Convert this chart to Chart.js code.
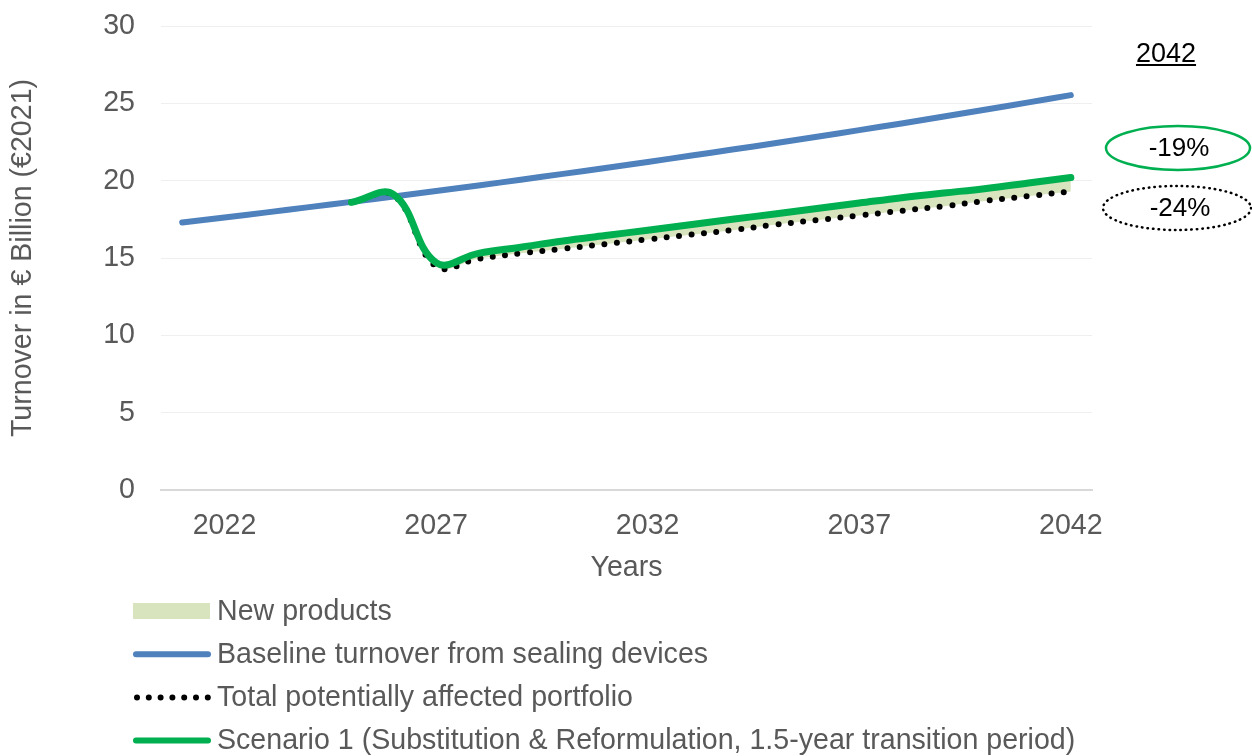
<!DOCTYPE html>
<html>
<head>
<meta charset="utf-8">
<script src="https://cdn.jsdelivr.net/npm/chart.js@4/dist/chart.umd.min.js"></script>
<style>
  html, body { margin: 0; padding: 0; background: #ffffff; }
  canvas { display: block; }
</style>
</head>
<body>
<canvas id="turnover" width="1252" height="756"></canvas>
<script>
// years on the category axis
var years = ["2021", "2022", "2023", "2024", "2025", "2026", "2027", "2028", "2029", "2030", "2031",
  "2032", "2033", "2034", "2035", "2036", "2037", "2038", "2039", "2040", "2041", "2042"];

// € billion, baseline turnover from sealing devices
var baseline = [17.3, 17.62, 17.95, 18.29, 18.63, 18.98, 19.33, 19.69, 20.06, 20.44, 20.82,
  21.21, 21.61, 22.01, 22.42, 22.84, 23.27, 23.7, 24.15, 24.6, 25.06, 25.53];

// total potentially affected portfolio
var affected = [null, null, null, null, 18.6, 19.05, 14.45, 14.95, 15.3, 15.6, 15.9,
  16.2, 16.5, 16.8, 17.15, 17.45, 17.75, 18.05, 18.35, 18.7, 19.0, 19.3];

// scenario 1 (substitution & reformulation)
var scenario1 = [null, null, null, null, 18.6, 19.1, 14.7, 15.3, 15.7, 16.1, 16.45,
  16.8, 17.15, 17.5, 17.85, 18.2, 18.55, 18.9, 19.2, 19.5, 19.85, 20.2];

var yTicks = [0, 5, 10, 15, 20, 25, 30];
var xTickYears = ["2022", "2027", "2032", "2037", "2042"];

var grey = "#595959";
var font = "'Liberation Sans', Arial, sans-serif";
var fontSize = 28.6;

// legend stacked under the x axis, one entry per line
var stackedLegend = {
  id: "stackedLegend",
  afterDraw: function (chart) {
    var ctx = chart.ctx;
    var sets = chart.data.datasets;
    ctx.save();
    ctx.font = fontSize + "px " + font;
    ctx.textBaseline = "middle";
    ctx.textAlign = "left";
    for (var i = 0; i < sets.length; i++) {
      var ds = sets[i];
      var y = 611 + i * 43.2;
      if (ds.legendKind === "box") {
        ctx.fillStyle = ds.backgroundColor;
        ctx.fillRect(133, y - 8, 77, 16);
      } else {
        ctx.beginPath();
        ctx.strokeStyle = ds.borderColor;
        ctx.lineCap = "round";
        if (ds.legendKind === "dots") {
          ctx.lineWidth = 6;
          ctx.setLineDash([0, 11.8]);
          ctx.moveTo(137, y);
          ctx.lineTo(208, y);
        } else {
          ctx.lineWidth = 6;
          ctx.setLineDash([]);
          ctx.moveTo(136, y);
          ctx.lineTo(208, y);
        }
        ctx.stroke();
        ctx.setLineDash([]);
      }
      ctx.fillStyle = grey;
      ctx.fillText(ds.label, 217, y + 1);
    }
    ctx.restore();
  }
};

// 2042 change labels on the right
var changeNotes = {
  id: "changeNotes",
  afterDraw: function (chart) {
    var ctx = chart.ctx;
    ctx.save();
    ctx.fillStyle = "#000000";
    ctx.font = "27px " + font;
    ctx.textAlign = "center";
    ctx.textBaseline = "alphabetic";
    ctx.fillText("2042", 1166, 62);
    var w = ctx.measureText("2042").width;
    ctx.fillRect(1166 - w / 2, 64, w, 2);

    ctx.textBaseline = "middle";
    ctx.font = "26px " + font;

    ctx.beginPath();
    ctx.ellipse(1178, 148, 72, 22, 0, 0, Math.PI * 2);
    ctx.strokeStyle = "#00b050";
    ctx.lineWidth = 2.5;
    ctx.stroke();
    ctx.fillText("-19%", 1179, 149);

    ctx.beginPath();
    ctx.ellipse(1177, 208, 74, 22, 0, 0, Math.PI * 2);
    ctx.strokeStyle = "#000000";
    ctx.lineWidth = 2.5;
    ctx.lineCap = "round";
    ctx.setLineDash([0.5, 5]);
    ctx.stroke();
    ctx.setLineDash([]);
    ctx.fillText("-24%", 1180, 209);
    ctx.restore();
  }
};

new Chart(document.getElementById("turnover"), {
  type: "line",
  data: {
    labels: years,
    datasets: [
      {
        label: "New products",
        legendKind: "box",
        data: scenario1,
        borderWidth: 0,
        borderColor: "rgba(0,0,0,0)",
        backgroundColor: "#d7e4bd",
        fill: 2,
        tension: 0.4,
        pointRadius: 0,
        order: 3
      },
      {
        label: "Baseline turnover from sealing devices",
        legendKind: "line",
        data: baseline,
        borderColor: "#4f81bd",
        borderWidth: 6,
        borderCapStyle: "round",
        fill: false,
        tension: 0.4,
        pointRadius: 0,
        order: 2
      },
      {
        label: "Total potentially affected portfolio",
        legendKind: "dots",
        data: affected,
        borderColor: "#000000",
        borderWidth: 6,
        borderDash: [0, 12.5],
        borderCapStyle: "round",
        fill: false,
        tension: 0.4,
        pointRadius: 0,
        order: 1
      },
      {
        label: "Scenario 1 (Substitution & Reformulation, 1.5-year transition period)",
        legendKind: "line",
        data: scenario1,
        borderColor: "#00b050",
        borderWidth: 7,
        borderCapStyle: "round",
        borderJoinStyle: "round",
        fill: false,
        tension: 0.4,
        pointRadius: 0,
        order: 0
      }
    ]
  },
  options: {
    responsive: false,
    animation: false,
    layout: {
      padding: { top: 26, right: 160, bottom: 167, left: 0 }
    },
    plugins: {
      legend: { display: false },
      tooltip: { enabled: false }
    },
    scales: {
      x: {
        offset: true,
        grid: { display: false, drawTicks: false },
        border: { display: true, color: "#d9d9d9", width: 2 },
        ticks: {
          autoSkip: false,
          maxRotation: 0,
          padding: 19,
          color: grey,
          font: { family: font, size: fontSize },
          callback: function (value, index) {
            var y = years[index];
            return xTickYears.indexOf(y) >= 0 ? y : "";
          }
        },
        title: {
          display: true,
          text: "Years",
          color: grey,
          font: { family: font, size: fontSize },
          padding: { top: 4, bottom: 4 }
        },
        afterFit: function (scale) {
          scale.height = 99;
          scale.paddingLeft = 0;
          scale.paddingRight = 0;
        }
      },
      y: {
        min: 0,
        max: 30,
        afterBuildTicks: function (scale) {
          scale.ticks = yTicks.map(function (v) { return { value: v }; });
        },
        grid: { color: "#efefef", lineWidth: 1, drawTicks: false },
        border: { display: false },
        ticks: {
          padding: 26,
          color: grey,
          font: { family: font, size: fontSize }
        },
        title: {
          display: true,
          text: "Turnover in € Billion (€2021)",
          color: grey,
          font: { family: font, size: fontSize },
          padding: { top: 6, bottom: 4 }
        },
        afterFit: function (scale) {
          scale.width = 161;
          scale.paddingTop = 0;
          scale.paddingBottom = 0;
        }
      }
    }
  },
  plugins: [stackedLegend, changeNotes]
});
</script>
</body>
</html>
